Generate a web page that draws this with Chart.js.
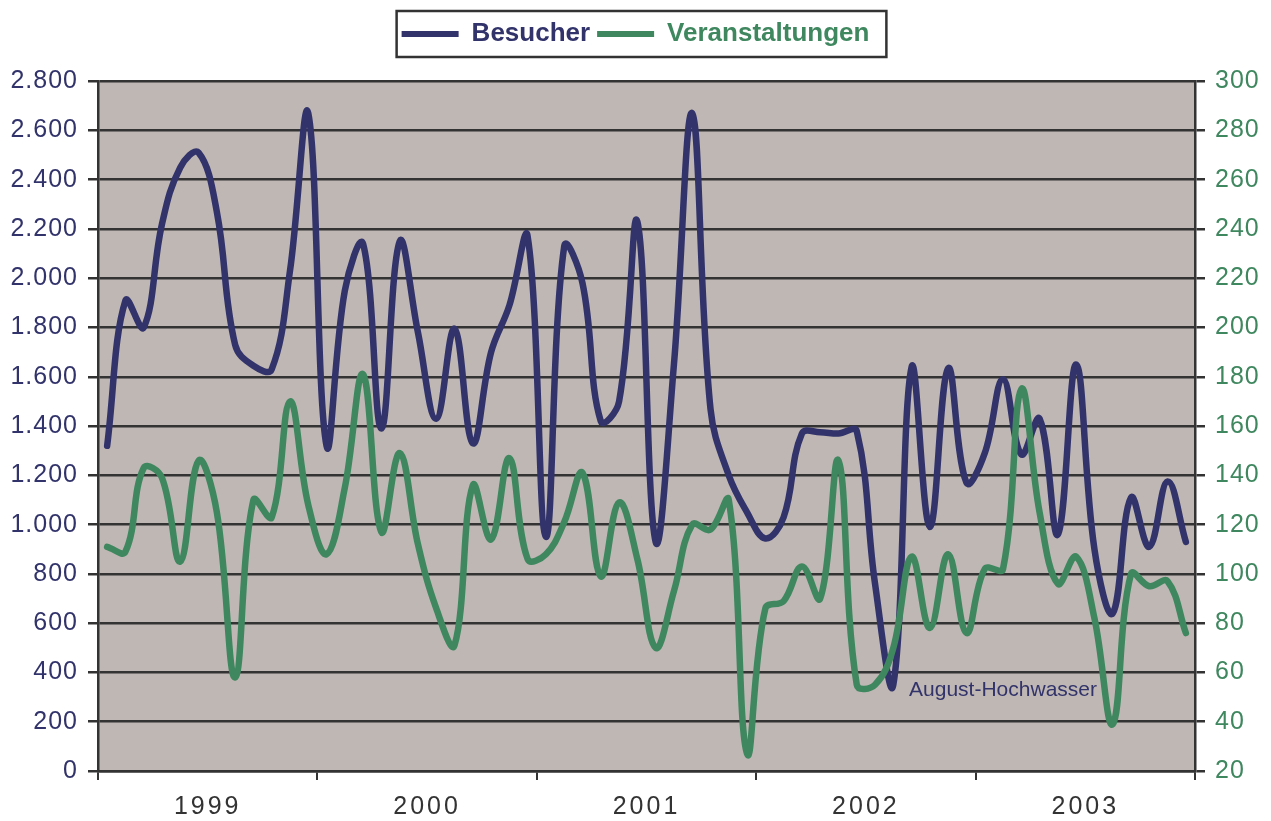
<!DOCTYPE html>
<html>
<head>
<meta charset="utf-8">
<script src="https://cdn.jsdelivr.net/npm/chart.js@4/dist/chart.umd.min.js"></script>
<style>
  html, body { margin: 0; padding: 0; background: #fff; }
  #wrap { width: 1271px; height: 821px; }
</style>
</head>
<body>
<div id="wrap"><canvas id="myChart"></canvas></div>
<script>
const years = ["1999", "2000", "2001", "2002", "2003"];

// Besucher per month, Jan 1999 .. Dec 2003
const besucher = [
    1320, 1910, 1800, 2220, 2450, 2510, 2270, 1730, 1645, 1630, 2030, 2670,
    1320, 1950, 2140, 1390, 2150, 1780, 1430, 1795, 1330, 1700, 1890, 2170,
    950, 2130, 1980, 1420, 1500, 2230, 930, 1650, 2670, 1470, 1200, 1050,
    944, 1030, 1370, 1375, 1370, 1380, 760, 350, 1640, 990, 1635, 1170,
    1290, 1590, 1285, 1430, 960, 1650, 900, 640, 1110, 910, 1175, 930,
];

// Veranstaltungen per month
const veranstaltungen = [
    111, 109, 143, 139, 105, 146, 125, 58, 130, 123, 170, 128,
    108, 135, 181, 117, 149, 112, 86, 71, 136, 114, 147, 106,
    108, 121, 141, 99, 129, 106, 70, 93, 120, 118, 130, 27,
    86, 89, 103, 90, 146, 55, 55, 70, 107, 78, 108, 76,
    102, 102, 175, 125, 96, 107, 82, 39, 100, 95, 97, 76,
];

const leftTicks = { min: 0, max: 2800, step: 200 };
const rightTicks = { min: 20, max: 300, step: 20 };

const note = { text: "August-Hochwasser", month: 49.5, value: 328 };

const navy = "#32336a";
const green = "#3f875f";
const plotBg = "#bfb7b4";
const gridColor = "#333333";
const fontFamily = "'Liberation Sans', Arial, sans-serif";

function formatDE(v) {
    if (v < 1000) return String(v);
    return Math.floor(v / 1000) + "." + String(v % 1000).padStart(3, "0");
}

const toPoints = (arr) => arr.map((v, i) => ({ x: i + 0.5, y: v }));

// canvas letter spacing for the tick labels (the original uses spaced digits)
function spaceLabels(scale, spacing) {
    if (scale._spaced) return;
    scale._spaced = true;
    const orig = scale.drawLabels;
    scale.drawLabels = function (area) {
        this.ctx.save();
        this.ctx.letterSpacing = spacing;
        orig.call(this, area);
        this.ctx.restore();
    };
}

const plotBackground = {
    id: "plotBackground",
    beforeDraw(chart) {
        const { ctx, chartArea } = chart;
        ctx.save();
        ctx.fillStyle = plotBg;
        ctx.fillRect(chartArea.left, chartArea.top, chartArea.right - chartArea.left, chartArea.bottom - chartArea.top);
        ctx.restore();
    },
};

const legendFrame = {
    id: "legendFrame",
    afterDraw(chart) {
        const boxes = chart.legend.legendHitBoxes;
        if (!boxes || !boxes.length) return;
        const first = boxes[0];
        const last = boxes[boxes.length - 1];
        const ctx = chart.ctx;
        ctx.save();
        ctx.strokeStyle = "#333";
        ctx.lineWidth = 2.5;
        const left = first.left - 5;
        const right = last.left + last.width + 17;
        const top = first.top - 10;
        const bottom = first.top + first.height + 10;
        ctx.strokeRect(left, top, right - left, bottom - top);
        ctx.restore();
    },
};

const noteLabel = {
    id: "noteLabel",
    afterDatasetsDraw(chart) {
        const ctx = chart.ctx;
        const x = chart.scales.x.getPixelForValue(note.month);
        const y = chart.scales.y.getPixelForValue(note.value);
        ctx.save();
        ctx.font = "21px " + fontFamily;
        ctx.fillStyle = navy;
        ctx.textAlign = "center";
        ctx.textBaseline = "middle";
        ctx.fillText(note.text, x, y);
        ctx.restore();
    },
};

const ctx = document.getElementById("myChart");
new Chart(ctx, {
    type: "line",
    data: {
        datasets: [
            {
                label: "Besucher",
                data: toPoints(besucher),
                yAxisID: "y",
                borderColor: navy,
                backgroundColor: navy,
                borderWidth: 6.5,
                pointRadius: 0,
                tension: 0.4,
                borderCapStyle: "round",
                borderJoinStyle: "round",
                order: 2,
            },
            {
                label: "Veranstaltungen",
                data: toPoints(veranstaltungen),
                yAxisID: "y1",
                borderColor: green,
                backgroundColor: green,
                borderWidth: 6.5,
                pointRadius: 0,
                tension: 0.4,
                borderCapStyle: "round",
                borderJoinStyle: "round",
                order: 1,
            },
        ],
    },
    options: {
        responsive: true,
        maintainAspectRatio: false,
        animation: false,
        layout: { padding: { top: 14, left: 0, right: 0, bottom: 0 } },
        plugins: {
            tooltip: { enabled: false },
            legend: {
                position: "top",
                weight: 1000,
                labels: {
                    boxWidth: 57,
                    boxHeight: 6,
                    padding: 7,
                    font: { family: fontFamily, size: 26, weight: "bold" },
                    generateLabels: (chart) =>
                        chart.data.datasets.map((ds, i) => ({
                            text: ds.label,
                            fillStyle: ds.borderColor,
                            strokeStyle: ds.borderColor,
                            lineWidth: 0,
                            fontColor: ds.borderColor,
                            hidden: false,
                            datasetIndex: i,
                        })),
                },
            },
            // empty title used as a gap between legend and plot
            title: {
                display: true,
                text: "",
                position: "top",
                weight: 500,
                font: { size: 1 },
                padding: { top: 0, bottom: 23 },
            },
        },
        scales: {
            x: {
                type: "linear",
                min: 0,
                max: 60,
                afterFit: (scale) => { scale.height = 50; spaceLabels(scale, "3px"); },
                ticks: {
                    stepSize: 6,
                    autoSkip: false,
                    maxRotation: 0,
                    padding: 12,
                    color: "#333",
                    font: { family: fontFamily, size: 25 },
                    callback: (v) => (v % 12 === 6 ? years[(v - 6) / 12] : ""),
                },
                grid: {
                    drawOnChartArea: false,
                    tickLength: 9,
                    lineWidth: 2,
                    tickColor: (c) => (c.tick && c.tick.value % 12 === 0 ? gridColor : "rgba(0,0,0,0)"),
                },
                border: { display: true, color: gridColor, width: 2.5 },
            },
            y: {
                position: "left",
                min: leftTicks.min,
                max: leftTicks.max,
                afterFit: (scale) => { scale.width = 98; spaceLabels(scale, "1px"); },
                ticks: {
                    stepSize: leftTicks.step,
                    padding: 10,
                    color: navy,
                    font: { family: fontFamily, size: 25 },
                    callback: (v) => formatDE(v),
                },
                grid: { color: gridColor, lineWidth: 2.5, tickLength: 10 },
                border: { display: true, color: gridColor, width: 2.5 },
            },
            y1: {
                position: "right",
                min: rightTicks.min,
                max: rightTicks.max,
                afterFit: (scale) => { scale.width = 76; spaceLabels(scale, "1px"); },
                ticks: {
                    stepSize: rightTicks.step,
                    padding: 10,
                    color: green,
                    font: { family: fontFamily, size: 25 },
                },
                grid: { drawOnChartArea: false, color: gridColor, lineWidth: 2.5, tickLength: 10 },
                border: { display: true, color: gridColor, width: 2.5 },
            },
        },
    },
    plugins: [plotBackground, legendFrame, noteLabel],
});
</script>
</body>
</html>
